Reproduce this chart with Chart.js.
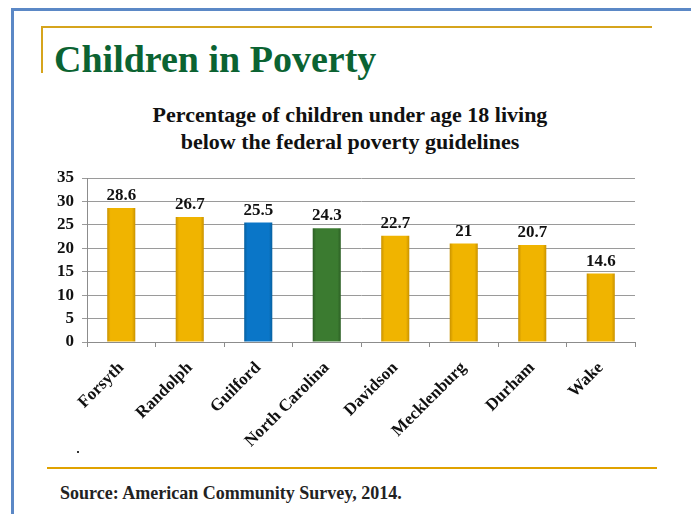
<!DOCTYPE html>
<html>
<head>
<meta charset="utf-8">
<script src="https://cdn.jsdelivr.net/npm/chart.js@4"></script>
<style>
  html, body { margin: 0; padding: 0; background: #ffffff; }
  #wrap { position: relative; width: 691px; height: 514px; overflow: hidden; background: #fff; }
  #frame { position: absolute; left: 11px; top: 8px; width: 700px; height: 600px;
           border-left: 3px solid #5b88c6; border-top: 3px solid #5b88c6; box-sizing: border-box; }
  #goldTop { position: absolute; left: 41px; top: 26px; width: 611px; height: 2px; background: #d6a41c; }
  #goldLeft { position: absolute; left: 41px; top: 26px; width: 2px; height: 47px; background: #d6a41c; }
  #goldBottom { position: absolute; left: 47px; top: 467px; width: 610px; height: 2px; background: #e0a200; }
  #slideTitle { position: absolute; left: 54px; top: 38px; font-family: "Liberation Serif", "Times New Roman", serif;
                font-weight: bold; font-size: 38px; color: #0b6332; line-height: 42px; white-space: nowrap; }
  #chartTitle { position: absolute; left: 100px; width: 500px; top: 101px; text-align: center;
                font-family: "Liberation Serif", serif; font-weight: bold; font-size: 22px; line-height: 27px; color: #111; }
  #source { position: absolute; left: 60px; top: 482px; font-family: "Liberation Serif", serif;
            font-weight: bold; font-size: 18px; color: #222; white-space: nowrap; line-height: 22px; }
  #dot { position: absolute; left: 77px; top: 451px; width: 2px; height: 2px; background: #333; }
  #chartBox { position: absolute; left: 0; top: 0; width: 691px; height: 514px; }
</style>
</head>
<body>
<div id="wrap">
  <div id="frame"></div>
  <div id="goldTop"></div>
  <div id="goldLeft"></div>
  <div id="goldBottom"></div>
  <div id="slideTitle">Children in Poverty</div>
  <div id="chartTitle"></div>
  <div id="dot"></div>
  <div id="source">Source: American Community Survey, 2014.</div>
  <div id="chartBox"><canvas id="c" width="691" height="514"></canvas></div>
</div>
<script>
const categories = ["Forsyth", "Randolph", "Guilford", "North Carolina", "Davidson", "Mecklenburg", "Durham", "Wake"];
const values = [28.6, 26.7, 25.5, 24.3, 22.7, 21, 20.7, 14.6];
const valueLabels = ["28.6", "26.7", "25.5", "24.3", "22.7", "21", "20.7", "14.6"];
const barColors = ["#f0b400", "#f0b400", "#0a76c8", "#3b7b30", "#f0b400", "#f0b400", "#f0b400", "#f0b400"];
const edgeColors = ["#c99200", "#c99200", "#07609f", "#2c5f24", "#c99200", "#c99200", "#c99200", "#c99200"];
const yTicks = [0, 5, 10, 15, 20, 25, 30, 35];
const chartTitle = ["Percentage of children under age 18 living", "below the federal poverty guidelines"];

document.getElementById('chartTitle').innerHTML = chartTitle.map(s => s.replace(/&/g, '&amp;').replace(/</g, '&lt;')).join('<br>');

const SERIF = "'Liberation Serif', 'Times New Roman', serif";
const BAR_FRACTION = 0.41;

function barFill(ctx) {
  const chart = ctx.chart;
  const i = ctx.dataIndex;
  const xs = chart.scales && chart.scales.x;
  if (!xs || i === undefined || xs.width === undefined || !chart.chartArea) return barColors[i] || barColors[0];
  const cx = xs.getPixelForValue(i);
  const half = (xs.width / categories.length) * BAR_FRACTION / 2;
  const g = chart.ctx.createLinearGradient(cx - half, 0, cx + half, 0);
  g.addColorStop(0, edgeColors[i]);
  g.addColorStop(0.12, barColors[i]);
  g.addColorStop(0.88, barColors[i]);
  g.addColorStop(1, edgeColors[i]);
  return g;
}

const valueLabelPlugin = {
  id: 'valueLabels',
  afterDatasetsDraw(chart) {
    const ctx = chart.ctx;
    const meta = chart.getDatasetMeta(0);
    ctx.save();
    ctx.font = "bold 17px " + SERIF;
    ctx.fillStyle = "#111";
    ctx.textAlign = "center";
    ctx.textBaseline = "alphabetic";
    meta.data.forEach((bar, i) => {
      ctx.fillText(valueLabels[i], bar.x, bar.y - 8);
    });
    ctx.restore();
  }
};

new Chart(document.getElementById('c'), {
  type: 'bar',
  data: {
    labels: categories,
    datasets: [{
      data: values,
      backgroundColor: barFill,
      borderWidth: 0,
      barPercentage: 0.82,
      categoryPercentage: 0.5
    }]
  },
  options: {
    responsive: false,
    animation: false,
    layout: { padding: { left: 40, right: 56, top: 178, bottom: 0 } },
    plugins: {
      legend: { display: false },
      tooltip: { enabled: false },
      title: { display: false }
    },
    scales: {
      y: {
        min: 0, max: 35,
        afterBuildTicks(scale) { scale.ticks = yTicks.map(v => ({ value: v })); },
        afterFit(scale) { scale.width = 47; },
        border: { display: true, color: "#8c8c8c", width: 1 },
        grid: { color: "#9a9a9a", lineWidth: 1, tickLength: 5, drawTicks: true },
        ticks: { color: "#111", padding: 8, font: { family: SERIF, size: 17, weight: 'bold' } }
      },
      x: {
        afterFit(scale) { scale.height = 172; },
        border: { display: true, color: "#8c8c8c", width: 1 },
        grid: { drawOnChartArea: false, drawTicks: true, tickLength: 5, color: "#8c8c8c", offset: true },
        ticks: { color: "#111", minRotation: 45, maxRotation: 45, padding: 11, autoSkip: false,
                 font: { family: SERIF, size: 17, weight: 'bold' } }
      }
    }
  },
  plugins: [valueLabelPlugin]
});
</script>
</body>
</html>
